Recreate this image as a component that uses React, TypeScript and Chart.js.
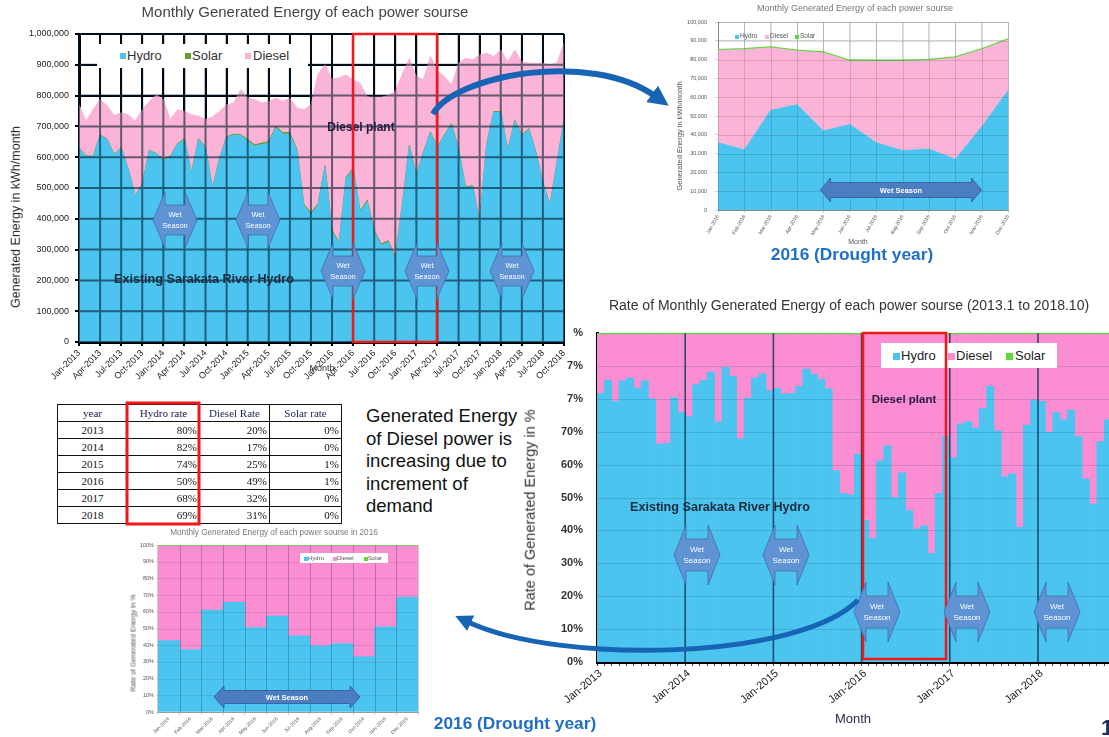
import React, { useEffect, useRef } from 'react';
import { Chart, registerables } from 'chart.js';

Chart.register(...registerables);

const FONT = '"Liberation Sans", Arial, sans-serif';
const SERIF = '"Liberation Serif", "Times New Roman", serif';
Chart.defaults.font.family = FONT;
Chart.defaults.color = '#333';

// ---------- categories ----------
const MONTH_NAMES = ['Jan', 'Feb', 'Mar', 'Apr', 'May', 'Jun', 'Jul', 'Aug', 'Sep', 'Oct', 'Nov', 'Dec'];
const YEARS = [2013, 2014, 2015, 2016, 2017, 2018];
const MONTH_COUNT = 70; // Jan-2013 .. Oct-2018
const MONTHS = YEARS.flatMap((y) => MONTH_NAMES.map((m) => `${m}-${y}`)).slice(0, MONTH_COUNT);
const MONTHS_2016 = MONTH_NAMES.map((m) => `${m}-2016`);
const YEAR_TICKS = [0, 12, 24, 36, 48, 60];
const YEAR_LABELS = ['Jan-2013', 'Jan-2014', 'Jan-2015', 'Jan-2016', 'Jan-2017', 'Jan-2018'];
const RATE_TICK_LABELS = ['0%', '10%', '20%', '30%', '40%', '50%', '60%', '70%', '7%', '7%', '%'];

// ---------- monthly generated energy (kWh/month), 2013.1 - 2018.10 ----------
const HYDRO_KWH = [
  627000, 603000, 601000, 670000, 657000, 607000, 629000, 560000, 474000, 510000, 620000, 610000,
  590000, 600000, 641000, 657000, 545000, 657000, 630000, 496000, 595000, 663000, 672000, 670000,
  652000, 635000, 641000, 645000, 695000, 675000, 675000, 620000, 442000, 415000, 444000, 567000,
  358000, 319000, 530000, 560000, 420000, 455000, 358000, 313000, 324000, 269000, 442000, 634000,
  539000, 614000, 679000, 630000, 670000, 706000, 625000, 500000, 505000, 388000, 640000, 745000,
  745000, 620000, 717000, 668000, 690000, 614000, 515000, 442000, 580000, 717000,
];
const SOLAR_KWH = [
  2000, 2000, 2000, 2000, 2000, 2000, 2000, 2000, 2000, 2000, 2000, 2000,
  3000, 3000, 3000, 3000, 3000, 3000, 3000, 3000, 3000, 3000, 3000, 3000,
  5000, 5000, 5000, 5000, 5000, 5000, 5000, 5000, 5000, 5000, 5000, 5000,
  5000, 5000, 5000, 5000, 5000, 5000, 5000, 5000, 5000, 5000, 5000, 5000,
  3000, 3000, 3000, 3000, 3000, 3000, 3000, 3000, 3000, 3000, 3000, 3000,
  3000, 3000, 3000, 3000, 3000, 3000, 3000, 3000, 3000, 3000,
];
const DIESEL_KWH = [
  141000, 112000, 151000, 115000, 108000, 126000, 113000, 176000, 241000, 242000, 159000, 191000,
  194000, 119000, 110000, 89000, 190000, 73000, 89000, 232000, 151000, 104000, 101000, 146000,
  135000, 147000, 130000, 131000, 92000, 101000, 112000, 135000, 307000, 350000, 421000, 328000,
  490000, 534000, 332000, 285000, 415000, 336000, 432000, 477000, 471000, 540000, 423000, 281000,
  320000, 234000, 245000, 247000, 189000, 126000, 277000, 418000, 408000, 541000, 294000, 179000,
  200000, 287000, 228000, 239000, 212000, 288000, 387000, 455000, 322000, 250000,
];

// ---------- monthly rate (%), 2013.1 - 2018.10 ----------
const HYDRO_RATE = [
  81.7, 85.6, 79.2, 85.5, 86.3, 83.2, 85.5, 80.0, 66.2, 66.5, 80.4, 75.9,
  74.6, 84.3, 85.6, 88.1, 72.9, 89.6, 86.8, 67.8, 80.2, 86.3, 87.6, 82.5,
  83.2, 81.4, 81.7, 83.8, 89.0, 87.5, 86.0, 83.0, 58.2, 51.3, 50.8, 63.1,
  43.1, 37.6, 61.1, 65.7, 50.0, 57.5, 46.0, 40.4, 41.4, 33.0, 51.3, 68.7,
  62.1, 72.4, 73.1, 71.1, 77.0, 83.8, 70.3, 56.3, 57.2, 40.9, 72.0, 79.7,
  79.2, 69.8, 75.8, 73.6, 76.6, 68.5, 55.6, 48.0, 67.0, 73.6,
];
const DIESEL_RATE = [
  17.8, 13.9, 20.3, 14.0, 13.2, 16.3, 14.0, 19.5, 33.3, 33.0, 19.1, 23.6,
  24.9, 15.2, 13.9, 11.4, 26.6, 9.9, 12.7, 31.7, 19.3, 13.2, 11.9, 17.0,
  16.3, 18.1, 17.8, 15.7, 10.5, 12.0, 13.5, 16.5, 41.3, 48.2, 48.7, 36.4,
  56.4, 61.9, 38.4, 33.8, 49.5, 42.0, 53.5, 59.1, 58.1, 66.5, 48.2, 30.8,
  37.4, 27.1, 26.4, 28.4, 22.5, 15.7, 29.2, 43.2, 42.3, 58.6, 27.5, 19.8,
  20.3, 29.7, 23.7, 25.9, 22.9, 31.0, 43.9, 51.5, 32.5, 25.9,
];
const SOLAR_RATE = [
  0.5, 0.5, 0.5, 0.5, 0.5, 0.5, 0.5, 0.5, 0.5, 0.5, 0.5, 0.5,
  0.5, 0.5, 0.5, 0.5, 0.5, 0.5, 0.5, 0.5, 0.5, 0.5, 0.5, 0.5,
  0.5, 0.5, 0.5, 0.5, 0.5, 0.5, 0.5, 0.5, 0.5, 0.5, 0.5, 0.5,
  0.5, 0.5, 0.5, 0.5, 0.5, 0.5, 0.5, 0.5, 0.5, 0.5, 0.5, 0.5,
  0.5, 0.5, 0.5, 0.5, 0.5, 0.5, 0.5, 0.5, 0.5, 0.5, 0.5, 0.5,
  0.5, 0.5, 0.5, 0.5, 0.5, 0.5, 0.5, 0.5, 0.5, 0.5,
];

// ---------- 2016 (drought year) ----------
const HYDRO_2016 = [35800, 31900, 53000, 56000, 42000, 45500, 35800, 31500, 32400, 26900, 44200, 63400];
const DIESEL_2016 = [49000, 53400, 33200, 28500, 41500, 33600, 43200, 47500, 47100, 54000, 41000, 27100];
const SOLAR_2016 = [500, 500, 500, 500, 500, 500, 500, 500, 500, 500, 500, 500];
const HYDRO_RATE_2016 = [42.8, 37.4, 61.0, 65.6, 50.6, 57.4, 45.6, 39.6, 41.0, 33.0, 51.0, 68.6];
const DIESEL_RATE_2016 = [56.6, 62.0, 38.4, 33.8, 48.8, 42.0, 53.8, 59.8, 58.4, 66.4, 48.4, 30.8];
const SOLAR_RATE_2016 = [0.6, 0.6, 0.6, 0.6, 0.6, 0.6, 0.6, 0.6, 0.6, 0.6, 0.6, 0.6];

// ---------- yearly table ----------
const TABLE_HEAD = ['year', 'Hydro rate', 'Diesel Rate', 'Solar rate'];
const TABLE_YEARS = ['2013', '2014', '2015', '2016', '2017', '2018'];
const TABLE_HYDRO = ['80%', '82%', '74%', '50%', '68%', '69%'];
const TABLE_DIESEL = ['20%', '17%', '25%', '49%', '32%', '31%'];
const TABLE_SOLAR = ['0%', '0%', '1%', '1%', '0%', '0%'];

// ---------- colours ----------
const BLUE = '#4cc4f0';
const PINK_LIGHT = '#fbb4d7';
const PINK = '#fb8dd3';
const GREEN = '#5fd83a';
const OLIVE = '#6c9b2e';

// ---------- chart helper ----------
function ChartBox({ left, top, width, height, make }: any) {
  const ref = useRef<HTMLCanvasElement>(null);
  useEffect(() => {
    const chart = new Chart(ref.current as HTMLCanvasElement, make());
    return () => chart.destroy();
  }, []);
  return (
    <canvas
      ref={ref}
      width={width}
      height={height}
      style={{ position: 'absolute', left, top, width, height }}
    />
  );
}

function lineTo(ctx: any, x1: number, y1: number, x2: number, y2: number) {
  ctx.moveTo(x1, y1);
  ctx.lineTo(x2, y2);
}

// chart 1 : monthly energy 2013-2018 (stacked area)
const gridOver1 = {
  id: 'gridOver1',
  afterDatasetsDraw(chart: any) {
    const { ctx, chartArea: a, scales } = chart;
    ctx.save();
    ctx.strokeStyle = 'rgba(0,25,45,0.6)';
    ctx.lineWidth = 2;
    ctx.beginPath();
    scales.x.ticks.forEach((_t: any, i: number) => {
      if (i % 3 === 0) {
        const px = scales.x.getPixelForTick(i);
        lineTo(ctx, px, a.top, px, a.bottom);
      }
    });
    scales.y.ticks.forEach((t: any) => {
      const py = scales.y.getPixelForValue(t.value);
      lineTo(ctx, a.left, py, a.right, py);
    });
    ctx.stroke();
    ctx.restore();
  },
};

const makeChart1 = () => ({
  type: 'line',
  data: {
    labels: MONTHS,
    datasets: [
      { label: 'Hydro', data: HYDRO_KWH, backgroundColor: BLUE, borderColor: BLUE, borderWidth: 1, fill: 'origin', pointRadius: 0, tension: 0 },
      { label: 'Solar', data: SOLAR_KWH, backgroundColor: OLIVE, borderColor: OLIVE, borderWidth: 1, fill: '-1', pointRadius: 0, tension: 0 },
      { label: 'Diesel', data: DIESEL_KWH, backgroundColor: PINK_LIGHT, borderColor: PINK_LIGHT, borderWidth: 1, fill: '-1', pointRadius: 0, tension: 0 },
    ],
  },
  options: {
    responsive: false,
    animation: false,
    devicePixelRatio: 1,
    layout: { padding: { left: 0, top: 34, right: 11, bottom: 0 } },
    plugins: { legend: { display: false }, tooltip: { enabled: false } },
    scales: {
      x: {
        ticks: {
          autoSkip: false, maxRotation: 45, minRotation: 45, padding: 2,
          font: { size: 9 }, color: '#222',
          callback: (_v: any, i: number) => (i % 3 === 0 ? MONTHS[i] : ''),
        },
        grid: { color: (c: any) => (c.index % 3 === 0 ? '#000' : 'rgba(0,0,0,0)'), lineWidth: 2, tickLength: 4 },
        border: { color: '#000', width: 3 },
        afterFit: (s: any) => { s.height = 58; },
      },
      y: {
        stacked: true, min: 0, max: 1000000,
        ticks: { stepSize: 100000, font: { size: 9 }, color: '#222', padding: 6, callback: (v: any) => Number(v).toLocaleString('en-US') },
        grid: { color: '#000', lineWidth: 2, tickLength: 4 },
        border: { color: '#000', width: 3 },
        afterFit: (s: any) => { s.width = 79; },
      },
    },
  },
  plugins: [gridOver1],
});

// chart 2 : 2016 energy (stacked area)
const gridOver2 = {
  id: 'gridOver2',
  afterDatasetsDraw(chart: any) {
    const { ctx, chartArea: a, scales } = chart;
    ctx.save();
    ctx.strokeStyle = 'rgba(0,0,0,0.13)';
    ctx.lineWidth = 1;
    ctx.beginPath();
    scales.x.ticks.forEach((_t: any, i: number) => {
      const px = Math.round(scales.x.getPixelForTick(i)) + 0.5;
      lineTo(ctx, px, a.top, px, a.bottom);
    });
    scales.y.ticks.forEach((t: any) => {
      const py = Math.round(scales.y.getPixelForValue(t.value)) + 0.5;
      lineTo(ctx, a.left, py, a.right, py);
    });
    ctx.stroke();
    ctx.restore();
  },
};

const makeChart2 = () => ({
  type: 'line',
  data: {
    labels: MONTHS_2016,
    datasets: [
      { label: 'Hydro', data: HYDRO_2016, backgroundColor: BLUE, borderColor: BLUE, borderWidth: 1, fill: 'origin', pointRadius: 0 },
      { label: 'Diesel', data: DIESEL_2016, backgroundColor: PINK_LIGHT, borderColor: PINK_LIGHT, borderWidth: 1, fill: '-1', pointRadius: 0 },
      { label: 'Solar', data: SOLAR_2016, backgroundColor: GREEN, borderColor: GREEN, borderWidth: 1.5, fill: '-1', pointRadius: 0 },
    ],
  },
  options: {
    responsive: false,
    animation: false,
    devicePixelRatio: 1,
    layout: { padding: { left: 0, top: 12, right: 12, bottom: 0 } },
    plugins: { legend: { display: false }, tooltip: { enabled: false } },
    scales: {
      x: {
        ticks: { autoSkip: false, maxRotation: 60, minRotation: 60, font: { size: 5 }, color: '#555', padding: 1 },
        grid: { color: '#d2d2d2', tickLength: 3 },
        border: { color: '#9a9a9a' },
        afterFit: (s: any) => { s.height = 35; },
      },
      y: {
        stacked: true, min: 0, max: 100000,
        ticks: { stepSize: 10000, font: { size: 5.5 }, color: '#555', padding: 8, callback: (v: any) => Number(v).toLocaleString('en-US') },
        grid: { color: '#d2d2d2', tickLength: 3 },
        border: { color: '#9a9a9a' },
        afterFit: (s: any) => { s.width = 58; },
      },
    },
  },
  plugins: [gridOver2],
});

// chart 3 : monthly rate 2013-2018 (stacked bars)
const gridOver3 = {
  id: 'gridOver3',
  afterDatasetsDraw(chart: any) {
    const { ctx, chartArea: a, scales } = chart;
    const x = scales.x;
    const step = x.getPixelForValue(1) - x.getPixelForValue(0);
    ctx.save();
    ctx.strokeStyle = 'rgba(0,40,70,0.14)';
    ctx.lineWidth = 1;
    ctx.beginPath();
    scales.y.ticks.forEach((t: any) => {
      if (t.value > 0 && t.value < 100) {
        const py = Math.round(scales.y.getPixelForValue(t.value)) + 0.5;
        lineTo(ctx, a.left, py, a.right, py);
      }
    });
    ctx.stroke();
    ctx.strokeStyle = 'rgba(10,50,80,0.8)';
    ctx.lineWidth = 1.6;
    ctx.beginPath();
    YEAR_TICKS.forEach((i) => {
      if (i > 0) {
        const px = x.getPixelForValue(i) - step / 2;
        lineTo(ctx, px, a.top, px, a.bottom);
      }
    });
    ctx.stroke();
    ctx.restore();
  },
};

const makeChart3 = () => ({
  type: 'bar',
  data: {
    labels: MONTHS,
    datasets: [
      { label: 'Hydro', data: HYDRO_RATE, backgroundColor: BLUE, barPercentage: 1, categoryPercentage: 1, borderWidth: 0 },
      { label: 'Diesel', data: DIESEL_RATE, backgroundColor: PINK, barPercentage: 1, categoryPercentage: 1, borderWidth: 0 },
      { label: 'Solar', data: SOLAR_RATE, backgroundColor: GREEN, barPercentage: 1, categoryPercentage: 1, borderWidth: 0 },
    ],
  },
  options: {
    responsive: false,
    animation: false,
    devicePixelRatio: 1,
    layout: { padding: { left: 0, top: 43, right: 8.5, bottom: 0 } },
    plugins: { legend: { display: false }, tooltip: { enabled: false } },
    scales: {
      x: {
        stacked: true,
        ticks: {
          autoSkip: false, maxRotation: 40, minRotation: 40, padding: 1,
          font: { size: 11 }, color: '#222',
          callback: (_v: any, i: number) => {
            const k = YEAR_TICKS.indexOf(i);
            return k >= 0 ? YEAR_LABELS[k] : '';
          },
        },
        grid: { drawOnChartArea: false, tickLength: 4, color: '#444', lineWidth: 1 },
        border: { color: '#000', width: 3 },
        afterFit: (s: any) => { s.height = 75; },
      },
      y: {
        stacked: true, min: 0, max: 100,
        ticks: { stepSize: 10, font: { size: 11, weight: 'bold' }, color: '#333', padding: 6, callback: (_v: any, i: number) => RATE_TICK_LABELS[i] },
        grid: { display: false },
        border: { color: '#000', width: 3 },
        afterFit: (s: any) => { s.width = 77; },
      },
    },
  },
  plugins: [gridOver3],
});

// chart 4 : 2016 rate (stacked bars)
const gridOver4 = {
  id: 'gridOver4',
  afterDatasetsDraw(chart: any) {
    const { ctx, chartArea: a, scales } = chart;
    const x = scales.x;
    const step = x.getPixelForValue(1) - x.getPixelForValue(0);
    ctx.save();
    ctx.strokeStyle = 'rgba(0,30,60,0.1)';
    ctx.lineWidth = 1;
    ctx.beginPath();
    scales.y.ticks.forEach((t: any) => {
      if (t.value > 0 && t.value < 100) {
        const py = Math.round(scales.y.getPixelForValue(t.value)) + 0.5;
        lineTo(ctx, a.left, py, a.right, py);
      }
    });
    ctx.stroke();
    ctx.strokeStyle = 'rgba(0,30,60,0.25)';
    ctx.beginPath();
    x.ticks.forEach((_t: any, i: number) => {
      if (i > 0) {
        const px = Math.round(x.getPixelForValue(i) - step / 2) + 0.5;
        lineTo(ctx, px, a.top, px, a.bottom);
      }
    });
    ctx.stroke();
    ctx.restore();
  },
};

const makeChart4 = () => ({
  type: 'bar',
  data: {
    labels: MONTHS_2016,
    datasets: [
      { label: 'Hydro', data: HYDRO_RATE_2016, backgroundColor: BLUE, barPercentage: 1, categoryPercentage: 1, borderWidth: 0 },
      { label: 'Diesel', data: DIESEL_RATE_2016, backgroundColor: PINK, barPercentage: 1, categoryPercentage: 1, borderWidth: 0 },
      { label: 'Solar', data: SOLAR_RATE_2016, backgroundColor: GREEN, barPercentage: 1, categoryPercentage: 1, borderWidth: 0 },
    ],
  },
  options: {
    responsive: false,
    animation: false,
    devicePixelRatio: 1,
    layout: { padding: { left: 0, top: 15, right: 12, bottom: 0 } },
    plugins: { legend: { display: false }, tooltip: { enabled: false } },
    scales: {
      x: {
        stacked: true,
        ticks: { autoSkip: false, maxRotation: 45, minRotation: 45, font: { size: 5 }, color: '#555', padding: 1 },
        grid: { color: '#cccccc', tickLength: 3 },
        border: { color: '#999' },
        afterFit: (s: any) => { s.height = 25; },
      },
      y: {
        stacked: true, min: 0, max: 100,
        ticks: { stepSize: 10, font: { size: 5.5 }, color: '#555', padding: 2, callback: (v: any) => `${v}%` },
        grid: { color: '#cccccc', tickLength: 2 },
        border: { color: '#999' },
        afterFit: (s: any) => { s.width = 48; },
      },
    },
  },
  plugins: [gridOver4],
});

// ---------- overlay helpers ----------
function Label({ x, y, text, size, color = '#222', weight = 400, align = 'center', rotate = 0, family = FONT, shadow }: any) {
  const tx = align === 'center' ? '-50%' : align === 'left' ? '0%' : '-100%';
  return (
    <div
      style={{
        position: 'absolute', left: x, top: y, whiteSpace: 'nowrap',
        transform: `translate(${tx}, -50%) rotate(${rotate}deg)`,
        fontSize: size, fontWeight: weight, color, fontFamily: family, lineHeight: 1,
        textShadow: shadow,
      }}
    >
      {text}
    </div>
  );
}

function Legend({ box, items, size, sq, textColor = '#333' }: any) {
  return (
    <>
      {box && (
        <div style={{ position: 'absolute', left: box[0], top: box[1], width: box[2], height: box[3], background: '#fff' }} />
      )}
      {items.map((it: any) => (
        <React.Fragment key={it.text}>
          <div style={{ position: 'absolute', left: it.sx, top: it.y - sq / 2 + 1, width: sq, height: sq, background: it.color }} />
          <Label x={it.tx} y={it.y} text={it.text} size={size} color={textColor} align="left" />
        </React.Fragment>
      ))}
    </>
  );
}

function WetArrow({ cx, cy, w, h, bodyH, head, fill, stroke, lines, fs, bold }: any) {
  const x0 = cx - w / 2;
  const x1 = cx + w / 2;
  const pts = [
    [x0, cy], [x0 + head, cy - h / 2], [x0 + head, cy - bodyH / 2], [x1 - head, cy - bodyH / 2],
    [x1 - head, cy - h / 2], [x1, cy], [x1 - head, cy + h / 2], [x1 - head, cy + bodyH / 2],
    [x0 + head, cy + bodyH / 2], [x0 + head, cy + h / 2],
  ];
  const lh = fs * 1.35;
  const startY = cy - ((lines.length - 1) * lh) / 2;
  return (
    <g>
      <polygon points={pts.map((p) => p.join(',')).join(' ')} fill={fill} stroke={stroke} strokeWidth={0.8} />
      {lines.map((l: string, i: number) => (
        <text
          key={l}
          x={cx}
          y={startY + i * lh}
          textAnchor="middle"
          dominantBaseline="central"
          fontSize={fs}
          fontWeight={bold ? 700 : 400}
          fontFamily={FONT}
          fill="#fff"
        >
          {l}
        </text>
      ))}
    </g>
  );
}

const WET_VERTICAL_1 = [
  [175, 220], [258, 220], [343, 271], [427, 271], [512, 271],
];
const WET_VERTICAL_3 = [
  [697, 555], [786, 555], [877, 612], [967, 612], [1057, 612],
];

function Table() {
  const widths = [70, 72, 70, 72];
  const rowH = 17;
  const rows = [TABLE_HEAD].concat(
    TABLE_YEARS.map((y, i) => [y, TABLE_HYDRO[i], TABLE_DIESEL[i], TABLE_SOLAR[i]]),
  );
  return (
    <table
      style={{
        position: 'absolute', left: 57, top: 404, borderCollapse: 'collapse',
        fontFamily: SERIF, fontSize: 11, tableLayout: 'fixed', width: 284,
      }}
    >
      <colgroup>
        {widths.map((w, i) => <col key={i} style={{ width: w }} />)}
      </colgroup>
      <tbody>
        {rows.map((r, ri) => (
          <tr key={ri} style={{ height: rowH }}>
            {r.map((c, ci) => (
              <td
                key={ci}
                style={{
                  border: '1.5px solid #111',
                  padding: '0 2px',
                  height: rowH - 2,
                  lineHeight: `${rowH - 3}px`,
                  textAlign: ri === 0 || ci === 0 ? 'center' : 'right',
                  color: ri === 0 ? '#1d2350' : '#111',
                  overflow: 'hidden',
                  whiteSpace: 'nowrap',
                }}
              >
                {c}
              </td>
            ))}
          </tr>
        ))}
      </tbody>
    </table>
  );
}

export default function App() {
  return (
    <div
      style={{
        position: 'fixed', left: 0, top: 0, width: 1109, height: 737, overflow: 'hidden',
        background: '#fff', fontFamily: FONT,
      }}
    >
      {/* charts */}
      <ChartBox left={0} top={0} width={575} height={400} make={makeChart1} />
      <ChartBox left={660} top={10} width={360} height={235} make={makeChart2} />
      <ChartBox left={520} top={290} width={600} height={447} make={makeChart3} />
      <ChartBox left={110} top={530} width={320} height={207} make={makeChart4} />

      {/* chart 1 texts */}
      <Label x={305} y={11} text="Monthly Generated Energy of each power sourse" size={15} color="#444" />
      <Label x={16} y={217} text="Generated Energy in kWh/month" size={12.5} color="#222" rotate={-90} />
      <Label x={322} y={368} text="Month" size={9} color="#333" />
      <Legend
        box={[97, 44, 211, 24]}
        size={13}
        sq={6}
        items={[
          { sx: 120, tx: 127, y: 55, color: BLUE, text: 'Hydro' },
          { sx: 185, tx: 192, y: 55, color: OLIVE, text: 'Solar' },
          { sx: 245, tx: 253, y: 55, color: PINK_LIGHT, text: 'Diesel' },
        ]}
      />
      <Label x={361} y={127} text="Diesel plant" size={12} weight={700} color="#231a3a" />
      <Label x={114} y={279} text="Existing Sarakata River Hydro" size={12.6} weight={700} color="#1b2b3b" align="left" />

      {/* chart 2 texts */}
      <Label x={855} y={8} text="Monthly  Generated Energy of each power sourse" size={9} color="#777" />
      <Label x={680} y={136} text="Generated Energy in kWh/month" size={7.5} color="#555" rotate={-90} />
      <Label x={858} y={241} text="Month" size={7} color="#555" />
      <Legend
        size={6.5}
        sq={4}
        items={[
          { sx: 735, tx: 740, y: 36, color: BLUE, text: 'Hydro' },
          { sx: 765, tx: 770, y: 36, color: PINK_LIGHT, text: 'Diesel' },
          { sx: 795, tx: 800, y: 36, color: GREEN, text: 'Solar' },
        ]}
        textColor="#555"
      />
      <Label x={852} y={255} text="2016 (Drought year)" size={17.3} weight={700} color="#1f6fc6" />

      {/* table & comment */}
      <Table />
      <div
        style={{
          position: 'absolute', left: 366, top: 405, fontSize: 18.5, lineHeight: '22.5px',
          color: '#111', fontFamily: FONT,
        }}
      >
        Generated Energy<br />of Diesel power is<br />increasing due to<br />increment of<br />demand
      </div>

      {/* chart 4 texts */}
      <Label x={274} y={533} text="Monthly Generated Energy of each power sourse in 2016" size={8.2} color="#777" />
      <Label x={133} y={643} text="Rate of Generated Energy in %" size={7} color="#555" rotate={-90} />
      <Legend
        box={[300, 553, 88, 10]}
        size={6}
        sq={3.5}
        items={[
          { sx: 304, tx: 308, y: 558, color: BLUE, text: 'Hydro' },
          { sx: 333, tx: 337, y: 558, color: PINK, text: 'Diesel' },
          { sx: 364, tx: 368, y: 558, color: GREEN, text: 'Solar' },
        ]}
        textColor="#555"
      />
      <Label x={515} y={724} text="2016 (Drought year)" size={17.3} weight={700} color="#1f6fc6" />

      {/* chart 3 texts */}
      <Label x={849} y={305} text="Rate of Monthly Generated Energy of each power sourse  (2013.1 to 2018.10)" size={14} color="#333" />
      <Label x={530} y={510} text="Rate of Generated Energy in %" size={14.5} color="#333" rotate={-90} />
      <Label x={853} y={718} text="Month" size={13} color="#2a2a4a" />
      <Legend
        box={[881, 343, 176, 25]}
        size={13}
        sq={7}
        items={[
          { sx: 893, tx: 901, y: 355, color: BLUE, text: 'Hydro' },
          { sx: 948, tx: 956, y: 355, color: PINK, text: 'Diesel' },
          { sx: 1006, tx: 1015, y: 355, color: GREEN, text: 'Solar' },
        ]}
        textColor="#222"
      />
      <Label x={904} y={400} text="Diesel plant" size={11.5} weight={700} color="#2a1a3a" />
      <Label x={630} y={507} text="Existing Sarakata River Hydro" size={12.6} weight={700} color="#1b2b3b" align="left" />
      <Label x={1101} y={728} text="1" size={22} weight={700} color="#1b3560" align="left" />

      {/* shapes */}
      <svg width={1109} height={737} style={{ position: 'absolute', left: 0, top: 0 }}>
        <defs>
          <marker id="ah" markerWidth="3.4" markerHeight="3.4" refX="0.6" refY="1.7" orient="auto" markerUnits="strokeWidth">
            <path d="M0,0 L3.4,1.7 L0,3.4 z" fill="#1764b4" />
          </marker>
        </defs>

        {/* red boxes */}
        <rect x={353} y={34} width={84} height={308} fill="none" stroke="#f01818" strokeWidth={2.5} />
        <rect x={863} y={333} width={83} height={326} fill="none" stroke="#f01818" strokeWidth={2.5} />
        <rect x={127} y={403} width={72} height={121} fill="none" stroke="#f01818" strokeWidth={3} />

        {/* wet season arrows */}
        {WET_VERTICAL_1.map(([cx, cy]) => (
          <WetArrow key={`a${cx}`} cx={cx} cy={cy} w={44} h={56} bodyH={30} head={12} fill="#5f93d3" stroke="#3f6fae" lines={['Wet', 'Season']} fs={7.5} />
        ))}
        {WET_VERTICAL_3.map(([cx, cy]) => (
          <WetArrow key={`b${cx}`} cx={cx} cy={cy} w={46} h={60} bodyH={32} head={12} fill="#5f93d3" stroke="#3f6fae" lines={['Wet', 'Season']} fs={8} />
        ))}
        <WetArrow cx={901} cy={190} w={161} h={24} bodyH={15} head={10} fill="#4b7dc0" stroke="#2d5a94" lines={['Wet Season']} fs={7.5} bold />
        <WetArrow cx={287} cy={697} w={146} h={22} bodyH={13} head={10} fill="#4b7dc0" stroke="#2d5a94" lines={['Wet Season']} fs={7.5} bold />

        {/* curved arrows */}
        <path d="M 433 114 C 455 75, 590 50, 655 96" fill="none" stroke="#1764b4" strokeWidth={6} markerEnd="url(#ah)" />
        <path d="M 858 600 C 800 660, 560 665, 468 622" fill="none" stroke="#1764b4" strokeWidth={5} markerEnd="url(#ah)" />
      </svg>
    </div>
  );
}
